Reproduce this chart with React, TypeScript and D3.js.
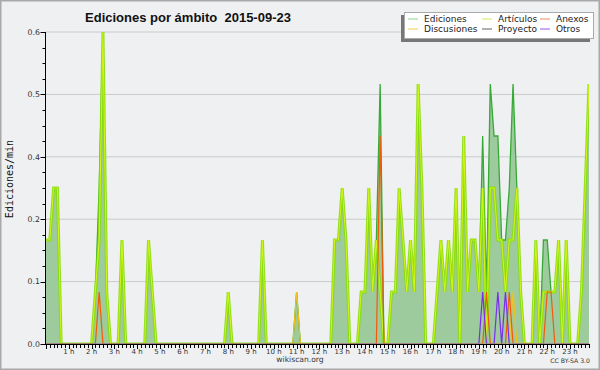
import React from "react";
import * as d3 from "d3";

// edits per minute, one value per 10-minute slot, 2015-09-23 (00:00 .. 23:50)
const ediciones = [
  0.2, 0.2, 0.3, 0.3, 0, 0, 0, 0, 0, 0, 0, 0,
  0, 0.1, 0.3, 0.6, 0.1, 0, 0, 0, 0.2, 0, 0, 0,
  0, 0, 0, 0.2, 0.1, 0, 0, 0, 0, 0, 0, 0,
  0, 0, 0, 0, 0, 0, 0, 0, 0, 0, 0, 0,
  0.1, 0, 0, 0, 0, 0, 0, 0, 0, 0.2, 0, 0,
  0, 0, 0, 0, 0, 0, 0.1, 0, 0, 0, 0, 0,
  0, 0, 0, 0, 0.2, 0.2, 0.3, 0.2, 0, 0, 0, 0.1,
  0.1, 0.3, 0.1, 0.2, 0.5, 0, 0, 0.1, 0.1, 0.3, 0.2, 0.1,
  0.2, 0.1, 0.5, 0.3, 0, 0, 0, 0.1, 0.2, 0.1, 0.2, 0.1,
  0.3, 0, 0.4, 0.1, 0.2, 0.2, 0.1, 0.4, 0.1, 0.5, 0.4, 0.4,
  0.2, 0.2, 0.3, 0.5, 0.3, 0.1, 0, 0, 0, 0.2, 0, 0.2,
  0.2, 0.1, 0.1, 0.2, 0, 0.2, 0, 0, 0, 0.1, 0.3, 0.5,
];

const articulos = [
  0.2, 0.2, 0.3, 0.3, 0, 0, 0, 0, 0, 0, 0, 0,
  0, 0.1, 0.2, 0.6, 0.1, 0, 0, 0, 0.2, 0, 0, 0,
  0, 0, 0, 0.2, 0.1, 0, 0, 0, 0, 0, 0, 0,
  0, 0, 0, 0, 0, 0, 0, 0, 0, 0, 0, 0,
  0.1, 0, 0, 0, 0, 0, 0, 0, 0, 0.2, 0, 0,
  0, 0, 0, 0, 0, 0, 0, 0, 0, 0, 0, 0,
  0, 0, 0, 0, 0.2, 0.2, 0.3, 0.2, 0, 0, 0, 0.1,
  0.1, 0.3, 0.1, 0.2, 0.1, 0, 0, 0.1, 0.1, 0.3, 0.2, 0.1,
  0.2, 0.1, 0.5, 0.3, 0, 0, 0, 0.1, 0.2, 0.1, 0.2, 0.1,
  0.3, 0, 0.4, 0.1, 0.2, 0.2, 0.1, 0.3, 0, 0.3, 0.3, 0.2,
  0.2, 0.1, 0.2, 0.2, 0.3, 0.1, 0, 0, 0, 0.2, 0, 0.1,
  0.1, 0.1, 0.1, 0.2, 0, 0.2, 0, 0, 0, 0.1, 0.3, 0.5,
];

// sparse series: [slot, edits/min], every other slot is 0
const anexos = [[14, 0.1], [88, 0.4], [116, 0.1], [122, 0.1], [132, 0.1], [133, 0.1]];
const discusiones = [[66, 0.1], [123, 0.1]];
const otros = [[115, 0.1], [119, 0.1], [121, 0.1]];
const proyecto: number[][] = [];

const hourLabels = d3.range(1, 24).map((h) => h + " h");
const yTicks = [0, 0.12, 0.24, 0.36, 0.48, 0.6];

const legendItems = [
  { name: "Ediciones", color: "#8fd08f", col: 0, row: 0 },
  { name: "Artículos", color: "#cdee5a", col: 1, row: 0 },
  { name: "Anexos", color: "#f08a5a", col: 2, row: 0 },
  { name: "Discusiones", color: "#f0cc50", col: 0, row: 1 },
  { name: "Proyecto", color: "#606060", col: 1, row: 1 },
  { name: "Otros", color: "#9955ee", col: 2, row: 1 },
];

const W = 600;
const H = 370;
const margin = { top: 32, right: 11, bottom: 26, left: 46 };

const expand = (pts: number[][]) => {
  const arr = ediciones.map(() => 0);
  pts.forEach(([i, v]) => (arr[i] = v));
  return arr;
};

export default function App() {
  const x = d3.scaleLinear().domain([0, 143]).range([margin.left, W - margin.right]);
  const y = d3.scaleLinear().domain([0, 0.6]).range([H - margin.bottom, margin.top]);

  const line = d3
    .line<number>()
    .x((d, i) => x(i))
    .y((d) => y(d));
  const area = d3
    .area<number>()
    .x((d, i) => x(i))
    .y0(y(0))
    .y1((d) => y(d));

  const minorY = d3.range(0, 0.6001, 0.03);
  const fmt = d3.format(".1f");
  const font = "'DejaVu Sans', sans-serif";

  const colX = [408, 482, 540];
  const rowY = [19, 29];

  return (
    <svg width={W} height={H} style={{ display: "block" }}>
      <style>{"body{margin:0;background:#eff0f2}"}</style>
      <defs>
        <clipPath id="plot">
          <rect x={x(0)} y={margin.top - 2} width={x(143) - x(0)} height={y(0) - margin.top + 1.5} />
        </clipPath>
      </defs>
      <rect x={0.75} y={0.75} width={W - 1.5} height={H - 1.5} fill="#eff0f2" stroke="#a9a9a9" strokeWidth={1.5} />

      {/* grid */}
      {yTicks.slice(1).map((t) => (
        <line key={t} x1={x(0)} x2={x(143)} y1={y(t)} y2={y(t)} stroke="#cacaca" strokeWidth={1} />
      ))}

      <g clipPath="url(#plot)">
        <path d={area(ediciones) || ""} fill="#9dcb9d" />
        <path d={line(ediciones) || ""} fill="none" stroke="#36a936" strokeWidth={1.3} />
        <path d={line(articulos) || ""} fill="none" stroke="#86dc00" strokeWidth={3} strokeOpacity={0.85} />
        <path d={line(articulos) || ""} fill="none" stroke="#cff516" strokeWidth={1.1} />
        <path d={line(expand(discusiones)) || ""} fill="none" stroke="#f2c21c" strokeWidth={1.2} />
        <path d={line(expand(anexos)) || ""} fill="none" stroke="#f25a0a" strokeWidth={1.2} />
        <path d={line(expand(otros)) || ""} fill="none" stroke="#7a2cf0" strokeWidth={1.2} />
        <path d={line(expand(proyecto)) || ""} fill="none" stroke="#555" strokeWidth={1.2} />
      </g>

      {/* y axis */}
      <line x1={x(0) - 0.5} x2={x(0) - 0.5} y1={margin.top} y2={y(0)} stroke="#000" />
      {minorY.map((t) => (
        <line key={t} x1={x(0) - 3.5} x2={x(0)} y1={Math.round(y(t)) + 0.5} y2={Math.round(y(t)) + 0.5} stroke="#000" />
      ))}
      {yTicks.map((t) => (
        <g key={t}>
          <line x1={x(0) - 5.5} x2={x(0)} y1={Math.round(y(t)) + 0.5} y2={Math.round(y(t)) + 0.5} stroke="#000" />
          <text x={x(0) - 6} y={y(t) + 2.8} textAnchor="end" fontSize={7.8} fontFamily={font} fill="#333">
            {fmt(t)}
          </text>
        </g>
      ))}
      <text
        transform={`translate(13,179) rotate(-90)`}
        textAnchor="middle"
        fontSize={10}
        fontFamily="'DejaVu Sans Mono', monospace"
        fill="#111"
      >
        Ediciones/min
      </text>

      {/* x axis */}
      <line x1={x(0) - 1} x2={x(143) + 0.5} y1={y(0) + 0.5} y2={y(0) + 0.5} stroke="#000" />
      {d3.range(0, 144).map((i) => (
        <line
          key={i}
          x1={Math.round(x(i)) + 0.5}
          x2={Math.round(x(i)) + 0.5}
          y1={y(0)}
          y2={y(0) + (i % 6 === 0 ? 5 : 4)}
          stroke="#000"
        />
      ))}
      {hourLabels.map((lab, k) => (
        <text key={lab} x={x((k + 1) * 6)} y={353.5} textAnchor="middle" fontSize={7} fontFamily={font} fill="#333">
          {lab}
        </text>
      ))}

      <text x={W / 2} y={361.5} textAnchor="middle" fontSize={7.6} fontFamily={font} fill="#333">
        wikiscan.org
      </text>
      <text x={590} y={363} textAnchor="end" fontSize={6.2} fontFamily={font} fill="#333">
        CC BY-SA 3.0
      </text>

      {/* title */}
      <text
        x={188}
        y={21.5}
        textAnchor="middle"
        fontSize={13}
        fontWeight="bold"
        fontFamily="'Liberation Sans', Arial, sans-serif"
        fill="#111"
        style={{ whiteSpace: "pre" }}
      >
        {"Ediciones por ámbito  2015-09-23"}
      </text>

      {/* legend */}
      <rect x={401} y={15} width={189} height={27} fill="#777" />
      <rect x={404.5} y={12.5} width={189} height={26} fill="#fff" stroke="#aaa" />
      {legendItems.map((it) => (
        <g key={it.name}>
          <line
            x1={colX[it.col]}
            x2={colX[it.col] + 10}
            y1={rowY[it.row]}
            y2={rowY[it.row]}
            stroke={it.color}
            strokeWidth={1}
          />
          <text x={colX[it.col] + 16} y={rowY[it.row] + 3.2} fontSize={9} fontFamily={font} fill="#222">
            {it.name}
          </text>
        </g>
      ))}
    </svg>
  );
}
